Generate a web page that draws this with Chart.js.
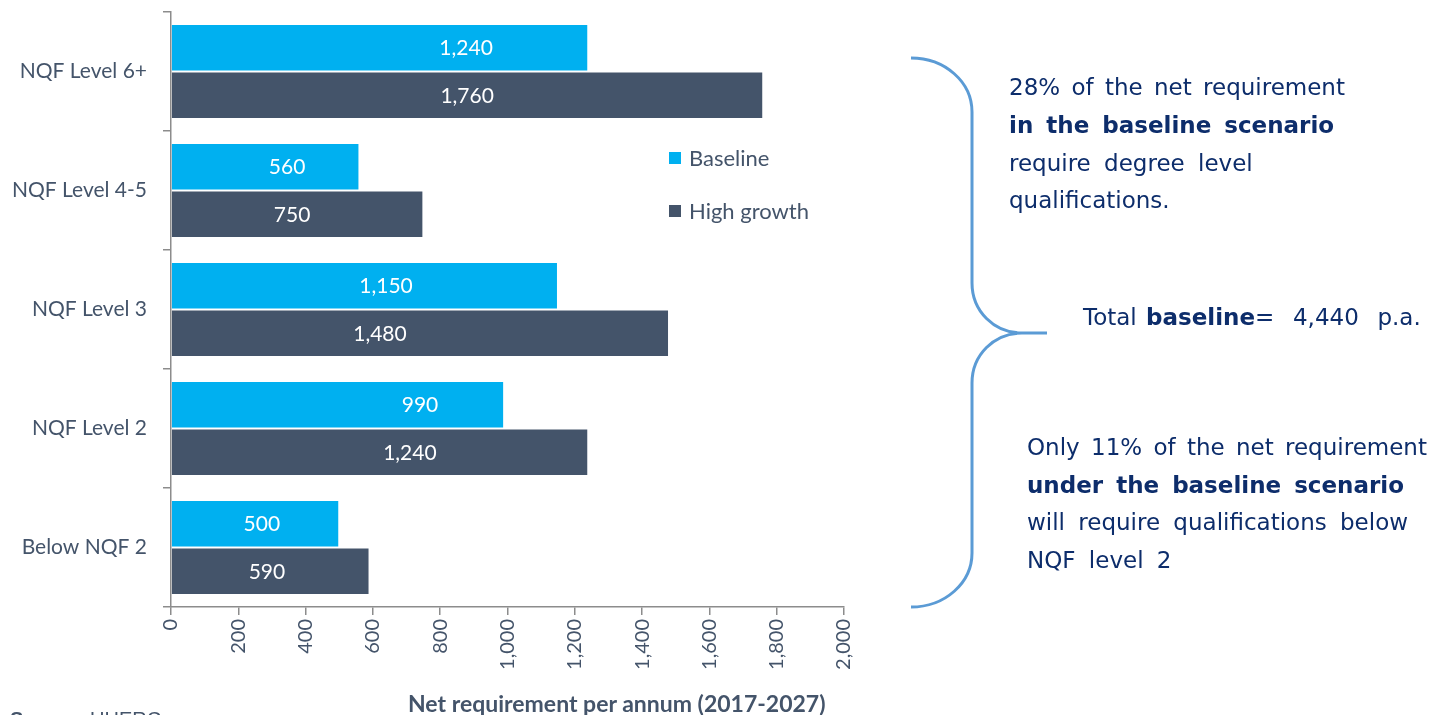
<!DOCTYPE html>
<html>
<head>
<meta charset="utf-8">
<script src="https://cdn.jsdelivr.net/npm/chart.js@4.4.1/dist/chart.umd.min.js"></script>
<style>
  html, body { margin:0; padding:0; width:1430px; height:715px; overflow:hidden; background:#fff; }
  #wrap { position:relative; width:1430px; height:715px; overflow:hidden; }
  canvas { position:absolute; left:0; top:0; }
  .t { position:absolute; white-space:nowrap; font-family:"DejaVu Sans", sans-serif; color:#0d2d6b; font-size:23px; line-height:30px; }
  .lg { position:absolute; font-family:Lato, sans-serif; font-size:22px; color:#44546a; white-space:nowrap; line-height:24px; }
  .sw { position:absolute; width:12px; height:12px; }
  #xtitle { position:absolute; font-family:Lato, sans-serif; font-weight:bold; font-size:23px; color:#44546a; white-space:nowrap; line-height:24px; }
  #src { position:absolute; left:10px; top:708px; font-family:Arial, "Liberation Sans", sans-serif; font-size:20px; color:#44546a; white-space:nowrap; line-height:22px; }
</style>
</head>
<body>
<div id="wrap">
  <canvas id="c" width="1430" height="715"></canvas>
  <svg width="1430" height="715" style="position:absolute;left:0;top:0;pointer-events:none">
    <path d="M 911 58 C 945 58, 972 82, 972 112 L 972 283 C 972 311, 994 333, 1022 333 L 1047 333 M 1022 333 C 994 333, 972 355, 972 383 L 972 553 C 972 583, 945 607, 911 607"
      fill="none" stroke="#5b9bd5" stroke-width="3"/>
  </svg>
  <div class="sw" style="left:669px;top:152px;background:#00b0f0"></div>
  <div class="lg" style="left:689px;top:146px">Baseline</div>
  <div class="sw" style="left:669px;top:205px;background:#44546a"></div>
  <div class="lg" style="left:689px;top:199px">High growth</div>

  <div class="t" style="left:1009px;top:72px;word-spacing:4px">28% of the net requirement</div>
  <div class="t" style="left:1009px;top:110px;font-weight:bold;word-spacing:5px">in the baseline scenario</div>
  <div class="t" style="left:1009px;top:148px;word-spacing:6px">require degree level</div>
  <div class="t" style="left:1009px;top:185px">qualifications.</div>

  <div class="t" style="left:1083px;top:302px;word-spacing:2px">Total <b>baseline</b>= &nbsp;4,440 &nbsp;p.a.</div>

  <div class="t" style="left:1027px;top:432px;word-spacing:4px">Only 11% of the net requirement</div>
  <div class="t" style="left:1027px;top:470px;font-weight:bold;word-spacing:5px">under the baseline scenario</div>
  <div class="t" style="left:1027px;top:507px;word-spacing:6px">will require qualifications below</div>
  <div class="t" style="left:1027px;top:545px;word-spacing:6px">NQF level 2</div>

  <div id="xtitle" style="left:408px;top:691px">Net requirement per annum (2017-2027)</div>
  <div id="src"><b>Source:</b> UHERC</div>
</div>
<script>
const categories = ['NQF Level 6+', 'NQF Level 4-5', 'NQF Level 3', 'NQF Level 2', 'Below NQF 2'];
const baselineValues = [1240, 560, 1150, 990, 500];
const highGrowthValues = [1760, 750, 1480, 1240, 590];
const seriesNames = ['Baseline', 'High growth'];
const xMin = 0, xMax = 2000, xStep = 200;
// where each value label sits along the value axis
const baselineLabelAt = [877, 345, 639, 740, 270];
const highGrowthLabelAt = [880, 360, 621, 710, 285];

const fmt = v => Number(v).toLocaleString('en-US');

const valueLabels = {
  id: 'valueLabels',
  afterDatasetsDraw(chart) {
    const ctx = chart.ctx;
    const xs = chart.scales.x;
    const at = [baselineLabelAt, highGrowthLabelAt];
    ctx.save();
    ctx.fillStyle = '#ffffff';
    ctx.font = '21px Lato';
    ctx.textAlign = 'center';
    ctx.textBaseline = 'middle';
    chart.data.datasets.forEach((ds, di) => {
      const meta = chart.getDatasetMeta(di);
      meta.data.forEach((el, i) => {
        ctx.fillText(fmt(ds.data[i]), xs.getPixelForValue(at[di][i]), el.y + 1);
      });
    });
    ctx.restore();
  }
};

new Chart(document.getElementById('c'), {
  type: 'bar',
  data: {
    labels: categories,
    datasets: [
      { label: seriesNames[0], data: baselineValues, backgroundColor: '#00b0f0', borderColor: 'rgba(255,255,255,0.7)', borderWidth: 1, categoryPercentage: 0.8, barPercentage: 1.0 },
      { label: seriesNames[1], data: highGrowthValues, backgroundColor: '#44546a', borderColor: 'rgba(255,255,255,0.7)', borderWidth: 1, categoryPercentage: 0.8, barPercentage: 1.0 }
    ]
  },
  options: {
    indexAxis: 'y',
    responsive: false,
    animation: false,
    layout: { padding: { left: 0, top: 12, right: 586, bottom: 0 } },
    plugins: { legend: { display: false }, tooltip: { enabled: false } },
    scales: {
      x: {
        min: xMin, max: xMax,
        ticks: { stepSize: xStep, minRotation: 90, maxRotation: 90, padding: 4, color: '#44546a', font: { family: 'Lato', size: 20 }, callback: v => fmt(v) },
        grid: { drawOnChartArea: false, drawTicks: true, tickLength: 8, color: '#8c8c8c', lineWidth: 1.5 },
        border: { color: '#8c8c8c', width: 1.5 },
        afterFit(s) { s.height = 108; s.paddingLeft = 0; s.paddingRight = 0; }
      },
      y: {
        ticks: { padding: 16, color: '#44546a', font: { family: 'Lato', size: 21 } },
        grid: { drawOnChartArea: false, drawTicks: true, tickLength: 8, color: '#8c8c8c', lineWidth: 1.5, offset: true },
        border: { color: '#8c8c8c', width: 1.5 },
        afterFit(s) { s.width = 171; s.paddingTop = 0; s.paddingBottom = 0; }
      }
    }
  },
  plugins: [valueLabels]
});
</script>
</body>
</html>
